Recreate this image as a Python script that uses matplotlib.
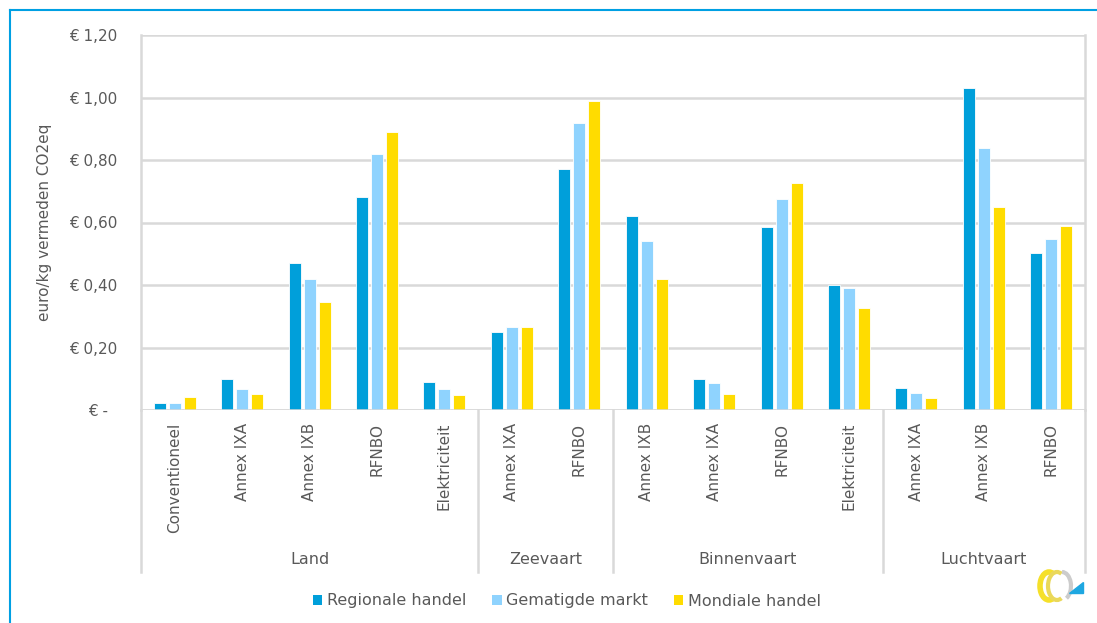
import matplotlib as mpl
mpl.use("Agg")
import matplotlib.pyplot as plt
from matplotlib.lines import Line2D
from matplotlib.patches import Patch, Arc, Polygon
import numpy as np

# data
groups = ["Land", "Zeevaart", "Binnenvaart", "Luchtvaart"]
group_sizes = [5, 2, 4, 3]
categories = ["Conventioneel", "Annex IXA", "Annex IXB", "RFNBO", "Elektriciteit",
              "Annex IXA", "RFNBO",
              "Annex IXB", "Annex IXA", "RFNBO", "Elektriciteit",
              "Annex IXA", "Annex IXB", "RFNBO"]
series = ["Regionale handel", "Gematigde markt", "Mondiale handel"]
regionale = [0.022, 0.100, 0.470, 0.680, 0.090, 0.250, 0.770,
             0.620, 0.100, 0.585, 0.400, 0.071, 1.031, 0.502]
gematigde = [0.022, 0.067, 0.420, 0.820, 0.068, 0.265, 0.920,
             0.540, 0.087, 0.675, 0.390, 0.054, 0.839, 0.547]
mondiale = [0.042, 0.050, 0.345, 0.890, 0.048, 0.265, 0.990,
            0.420, 0.050, 0.725, 0.325, 0.037, 0.650, 0.589]
colors = ["#009fda", "#8fd3fe", "#ffdc00"]
yticks = [0, 0.2, 0.4, 0.6, 0.8, 1.0, 1.2]

text_col = "#595959"
grid_col = "#d9d9d9"

fig = plt.figure(figsize=(10.97, 6.23), dpi=100)
ax = fig.add_axes([141 / 1097, 1 - 410 / 623, 944 / 1097, 375 / 623])

x = np.arange(len(categories))
w = 0.178
step = 0.2225
for i, (vals, c) in enumerate(zip([regionale, gematigde, mondiale], colors)):
    ax.bar(x + (i - 1) * step, vals, width=w, color=c, edgecolor="white",
           linewidth=0.6, zorder=3)

ax.set_xlim(-0.5, len(categories) - 0.5)
ax.set_ylim(0, 1.2)
ax.set_yticks(yticks)
ax.set_yticklabels(["€ -  " if v == 0 else "€ " + f"{v:.2f}".replace(".", ",")
                    for v in yticks])
ax.tick_params(axis="y", length=0, pad=17, labelsize=11, labelcolor=text_col)
ax.set_xticks([])
ax.grid(axis="y", color=grid_col, linewidth=1.8, zorder=0)
for s in ["top", "bottom"]:
    ax.spines[s].set_visible(False)
for s in ["left", "right"]:
    ax.spines[s].set_color(grid_col)
    ax.spines[s].set_linewidth(1.8)
ax.axhline(0, color=grid_col, linewidth=1.8, zorder=4)

ax.set_ylabel("euro/kg vermeden CO2eq", fontsize=11, color=text_col, labelpad=12)

# category labels and group labels below the axis
tr = ax.get_xaxis_transform()
px = 1 / 375  # one pixel in axes-fraction units (vertical)
for xi, lab in zip(x, categories):
    ax.text(xi, -13 * px, lab, transform=tr, rotation=90, ha="center", va="top",
            fontsize=11, color=text_col)

edges = np.concatenate([[0], np.cumsum(group_sizes)]) - 0.5
for g, a, b in zip(groups, edges[:-1], edges[1:]):
    ax.text((a + b) / 2, -150 * px, g, transform=tr, ha="center", va="center",
            fontsize=11.5, color=text_col)
for e in edges:
    ax.add_line(Line2D([e, e], [0, -162 * px], transform=tr, color=grid_col,
                       linewidth=1.8, clip_on=False))

handles = [Patch(facecolor=c, edgecolor="none") for c in colors]
fig.legend(handles, series, loc="center", bbox_to_anchor=(567 / 1097, 1 - 601 / 623),
           ncol=3, frameon=False, fontsize=11.5, labelcolor=text_col,
           handlelength=0.6, handleheight=0.6, handletextpad=0.3, columnspacing=1.6)

# thin blue frame at top and left
fig.add_artist(Line2D([10 / 1097, 1], [1 - 10 / 623] * 2, transform=fig.transFigure,
                      color="#00a0e3", linewidth=1.5))
fig.add_artist(Line2D([10 / 1097] * 2, [0, 1 - 10 / 623], transform=fig.transFigure,
                      color="#00a0e3", linewidth=1.5))

# small logo, bottom right (pixel units inside its own axes)
lax = fig.add_axes([1034 / 1097, 1 - 605 / 623, 52 / 1097, 38 / 623])
lax.set_xlim(0, 52)
lax.set_ylim(0, 38)
lax.axis("off")
lax.add_patch(Arc((15, 19), 18, 28, theta1=70, theta2=290, color="#f5e02a", linewidth=4))
lax.add_patch(Arc((23, 19), 18, 28, theta1=70, theta2=290, color="#ead85a", linewidth=3))
lax.add_patch(Arc((28, 19), 18, 28, theta1=-70, theta2=90, color="#cccccc", linewidth=3))
lax.add_patch(Polygon([[35, 12], [49, 12], [49, 23]], closed=True, color="#1ea7e1"))

fig.savefig("out.png", dpi=100)
